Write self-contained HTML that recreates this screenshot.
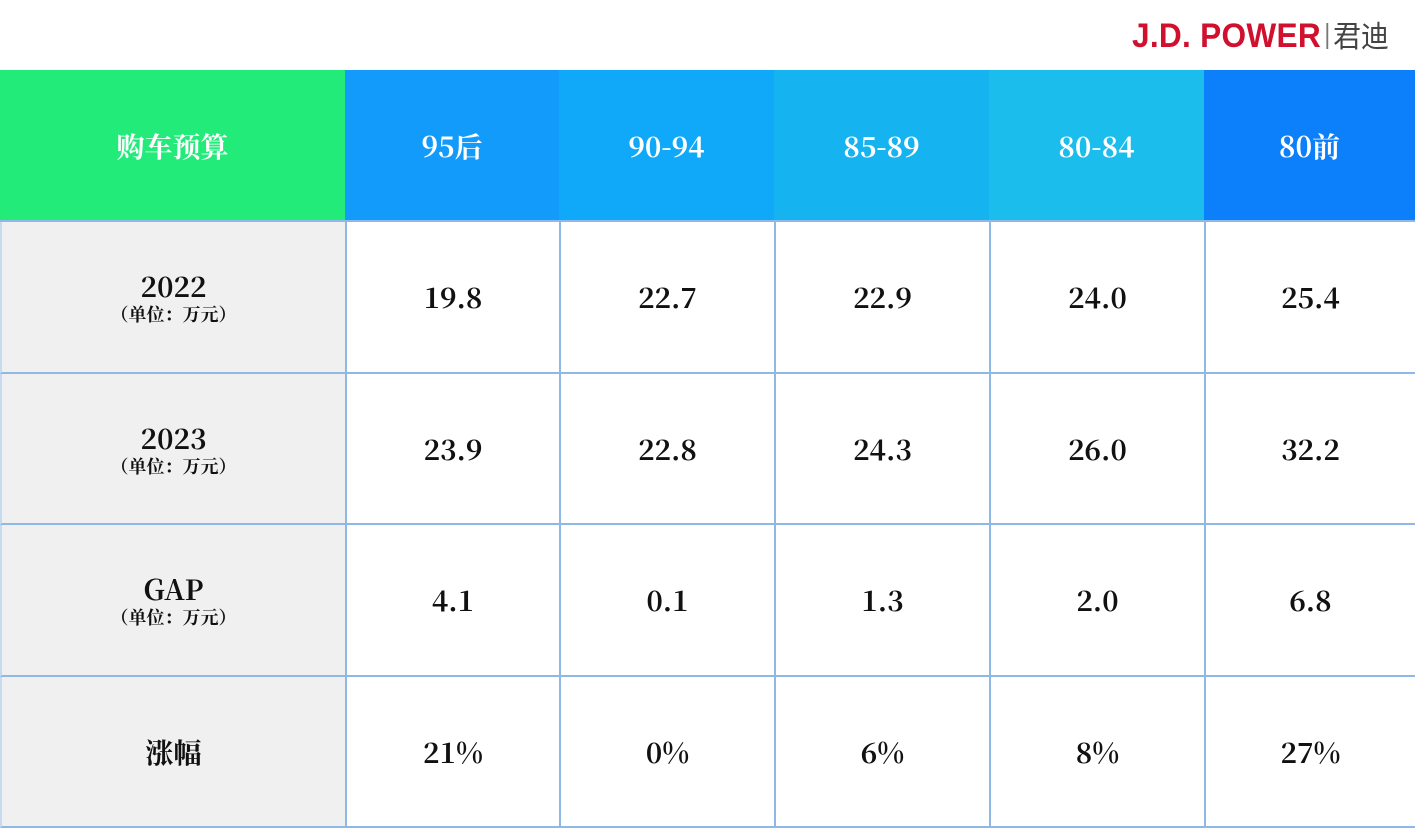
<!DOCTYPE html>
<html><head><meta charset="utf-8"><style>
body{margin:0;width:1415px;height:836px;background:#fff;position:relative;overflow:hidden;font-family:"Noto Serif CJK SC","Liberation Serif",serif;}
.c{position:absolute;display:flex;flex-direction:column;align-items:center;justify-content:center;box-sizing:border-box;color:#111;font-weight:bold;font-size:28px;line-height:34px;}
.h{color:#fff;font-size:28px;}
.b{border-right:2px solid #8fb8e6;border-bottom:2px solid #8fb8e6;}
.s{font-size:18px;line-height:22px;}
.logo{position:absolute;top:12px;left:1132px;font-family:"Liberation Sans",sans-serif;font-weight:bold;font-size:34px;color:#d0102e;letter-spacing:0.3px;transform:scaleX(0.93);transform-origin:left;white-space:nowrap;}
.bar{display:inline-block;width:2px;height:26px;background:#777;vertical-align:-2px;margin:0 5px 0 6px;}
.cj{color:#444;font-weight:normal;font-family:"Noto Sans CJK SC",sans-serif;font-size:30px;letter-spacing:0;}
</style></head><body>
<div class="logo">J.D. POWER<span class="bar"></span><span class="cj">君迪</span></div>
<div class="c h" style="left:0;top:70px;width:345px;height:151px;background:#22eb7a;">购车预算</div>
<div class="c h" style="left:345px;top:70px;width:214px;height:151px;background:#129bfb;">95后</div>
<div class="c h" style="left:559px;top:70px;width:215px;height:151px;background:#10a8f8;">90-94</div>
<div class="c h" style="left:774px;top:70px;width:215px;height:151px;background:#15b3f0;">85-89</div>
<div class="c h" style="left:989px;top:70px;width:215px;height:151px;background:#1bbdec;">80-84</div>
<div class="c h" style="left:1204px;top:70px;width:211px;height:151px;background:#0c80fb;">80前</div>
<div style="position:absolute;left:0;top:220px;width:1415px;height:2px;background:#8fb8e6"></div>
<div class="c b" style="left:0;top:222px;width:347px;height:152px;background:#f0f0f0;border-left:2px solid #c6dbf2"><div>2022</div><div class="s">（单位：万元）</div></div>
<div class="c b" style="left:347px;top:222px;width:214px;height:152px">19.8</div>
<div class="c b" style="left:561px;top:222px;width:215px;height:152px">22.7</div>
<div class="c b" style="left:776px;top:222px;width:215px;height:152px">22.9</div>
<div class="c b" style="left:991px;top:222px;width:215px;height:152px">24.0</div>
<div class="c b" style="left:1206px;top:222px;width:209px;height:152px;border-right:none">25.4</div>

<div class="c b" style="left:0;top:374px;width:347px;height:151px;background:#f0f0f0;border-left:2px solid #c6dbf2"><div>2023</div><div class="s">（单位：万元）</div></div>
<div class="c b" style="left:347px;top:374px;width:214px;height:151px">23.9</div>
<div class="c b" style="left:561px;top:374px;width:215px;height:151px">22.8</div>
<div class="c b" style="left:776px;top:374px;width:215px;height:151px">24.3</div>
<div class="c b" style="left:991px;top:374px;width:215px;height:151px">26.0</div>
<div class="c b" style="left:1206px;top:374px;width:209px;height:151px;border-right:none">32.2</div>

<div class="c b" style="left:0;top:525px;width:347px;height:152px;background:#f0f0f0;border-left:2px solid #c6dbf2"><div>GAP</div><div class="s">（单位：万元）</div></div>
<div class="c b" style="left:347px;top:525px;width:214px;height:152px">4.1</div>
<div class="c b" style="left:561px;top:525px;width:215px;height:152px">0.1</div>
<div class="c b" style="left:776px;top:525px;width:215px;height:152px">1.3</div>
<div class="c b" style="left:991px;top:525px;width:215px;height:152px">2.0</div>
<div class="c b" style="left:1206px;top:525px;width:209px;height:152px;border-right:none">6.8</div>

<div class="c b" style="left:0;top:677px;width:347px;height:151px;background:#f0f0f0;border-left:2px solid #c6dbf2">涨幅</div>
<div class="c b" style="left:347px;top:677px;width:214px;height:151px">21%</div>
<div class="c b" style="left:561px;top:677px;width:215px;height:151px">0%</div>
<div class="c b" style="left:776px;top:677px;width:215px;height:151px">6%</div>
<div class="c b" style="left:991px;top:677px;width:215px;height:151px">8%</div>
<div class="c b" style="left:1206px;top:677px;width:209px;height:151px;border-right:none">27%</div>
</body></html>
